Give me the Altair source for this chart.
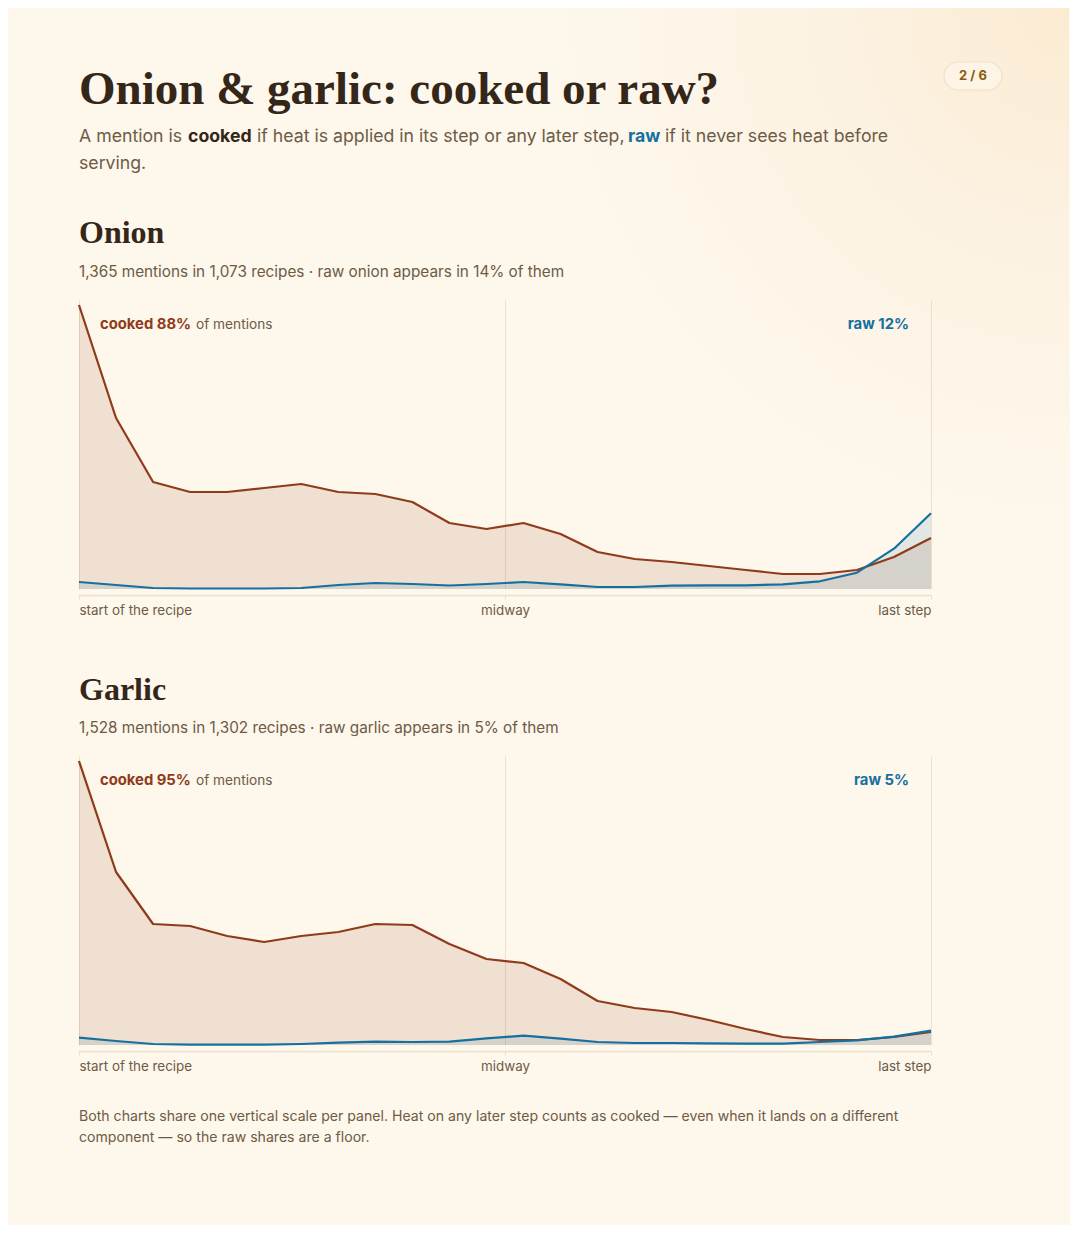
import altair as alt
import pandas as pd

# ---------------- data ----------------
steps = list(range(24))
onion_cooked = [284, 171, 107, 97, 97, 101, 105, 97, 95, 87, 66, 60, 66, 55, 37, 30, 27, 23, 19, 15, 15, 19, 32, 51]
onion_raw = [7, 4, 1, 0.5, 0.5, 0.5, 1, 4, 6, 5, 3.5, 5, 7, 4.7, 2, 2, 3.4, 3.7, 3.7, 4.7, 7.7, 16.3, 40.3, 75.7]
garlic_cooked = [284, 173, 121, 119, 109, 103, 109, 113, 121, 120, 101, 86, 82, 66, 44, 37, 33, 25, 16, 8, 5, 5, 8, 13]
garlic_raw = [7.3, 4, 1, 0.3, 0.3, 0.3, 1, 2.3, 3.3, 3, 3.3, 6.7, 9.3, 6.3, 3, 2, 2, 1.7, 1.3, 1.3, 3, 4.7, 8.3, 14.3]

tick_values = [0, 11.5, 23]
tick_labels = ["start of the recipe", "midway", "last step"]

TITLE = "Onion & garlic: cooked or raw?"
BADGE = "2 / 6"
footnote = [
    "Both charts share one vertical scale per panel. Heat on any later step counts as cooked — even when it lands on a different",
    "component — so the raw shares are a floor.",
]

# ---------------- styles ----------------
BG = "#fdf7ec"
DARK = "#35261a"
BODY = "#6e5b45"
RUST = "#8f3b1b"
BLUE = "#16709f"
GRID = "#ecdfcc"
SANS = "Inter"
SERIF = "Liberation Serif"
W = 852
PH = 289
SUB = 17.7


def txt(s, x, y, size=15, color=BODY, weight="normal", font=SANS, align="left", baseline="alphabetic"):
    return alt.Chart(pd.DataFrame({"t": [s]})).mark_text(
        align=align, baseline=baseline, fontSize=size, color=color,
        fontWeight=weight, font=font
    ).encode(x=alt.value(x), y=alt.value(y), text="t:N")


# ---------------- header cell ----------------
glow = alt.Chart(pd.DataFrame({"a": [0]})).mark_rect(
    fill=alt.RadialGradient(
        gradient="radial",
        stops=[alt.GradientStop(color="#fbebd2", offset=0),
               alt.GradientStop(color="#fcf2e2", offset=0.45),
               alt.GradientStop(color=BG, offset=1)],
        x1=1, y1=0, x2=1, y2=0, r1=0, r2=1,
    )
).encode(x=alt.value(470), x2=alt.value(990), y=alt.value(0), y2=alt.value(520))

badge = alt.Chart(pd.DataFrame({"a": [0]})).mark_rect(
    fill="#fdf4e6", stroke="#f1e0c8", strokeWidth=1.2, cornerRadius=14
).encode(x=alt.value(865), x2=alt.value(923), y=alt.value(54), y2=alt.value(82))

header = alt.layer(
    glow,
    badge,
    txt(BADGE, 894, 68, size=13, color="#8a5a12", weight="bold", align="center", baseline="middle"),
    txt(TITLE, 0, 96, size=47, color=DARK, weight="bold", font=SERIF),
    txt("A mention is", 0, 134, size=SUB),
    txt("cooked", 109, 134, size=SUB, color=DARK, weight="bold"),
    txt("if heat is applied in its step or any later step,", 178, 134, size=SUB),
    txt("raw", 549, 134, size=SUB, color=BLUE, weight="bold"),
    txt("if it never sees heat before", 586, 134, size=SUB),
    txt("serving.", 0, 161, size=SUB),
    txt("Onion", 0, 235, size=32, color=DARK, weight="bold", font=SERIF),
    txt("1,365 mentions in 1,073 recipes · raw onion appears in 14% of them", 0, 269, size=15.3),
).properties(width=W, height=292)


# ---------------- panel builder ----------------
def panel(cooked, raw, cooked_pct, raw_pct):
    df = pd.DataFrame({"step": steps, "cooked": cooked, "raw": raw})
    label_expr = ("datum.value == %s ? '%s' : datum.value == %s ? '%s' : '%s'"
                  % (tick_values[0], tick_labels[0], tick_values[2], tick_labels[2], tick_labels[1]))
    X = alt.X(
        "step:Q",
        scale=alt.Scale(domain=[0, 23], nice=False, zero=False),
        axis=alt.Axis(
            values=tick_values, labelExpr=label_expr, labelFlush=True, title=None,
            grid=True, gridColor=GRID, gridWidth=1,
            domainColor=GRID, domainWidth=1.5, tickColor=GRID, tickSize=4, offset=6,
            labelFontSize=13.4, labelColor=BODY, labelFont=SANS, labelPadding=4,
        ),
    )
    yscale = alt.Scale(domain=[0, PH], nice=False)
    base = alt.Chart(df)
    area_c = base.mark_area(color=RUST, opacity=0.12).encode(
        x=X, y=alt.Y("cooked:Q", scale=yscale, axis=None))
    area_r = base.mark_area(color=BLUE, opacity=0.12).encode(
        x=X, y=alt.Y("raw:Q", scale=yscale, axis=None))
    line_c = base.mark_line(color=RUST, strokeWidth=2.2, strokeJoin="round").encode(
        x=X, y=alt.Y("cooked:Q", scale=yscale, axis=None))
    line_r = base.mark_line(color=BLUE, strokeWidth=2.2, strokeJoin="round").encode(
        x=X, y=alt.Y("raw:Q", scale=yscale, axis=None))
    return alt.layer(
        area_c, area_r, line_c, line_r,
        txt("cooked %d%%" % cooked_pct, 21, 29, size=14.8, color=RUST, weight="bold"),
        txt("of mentions", 117, 29, size=13.7, color=BODY),
        txt("raw %d%%" % raw_pct, 830, 29, size=14.8, color=BLUE, weight="bold", align="right"),
    ).properties(width=W, height=PH)


onion = panel(onion_cooked, onion_raw, 88, 12)
garlic = panel(garlic_cooked, garlic_raw, 95, 5)

garlic_head = alt.layer(
    txt("Garlic", 0, 111, size=32, color=DARK, weight="bold", font=SERIF),
    txt("1,528 mentions in 1,302 recipes · raw garlic appears in 5% of them", 0, 144, size=15.3),
).properties(width=W, height=167)

footer = alt.layer(
    txt(footnote[0], 0, 76, size=14.1),
    txt(footnote[1], 0, 97, size=14.1),
).properties(width=W, height=180)

chart = alt.vconcat(
    header, onion, garlic_head, garlic, footer, spacing=0, bounds="flush"
).properties(
    padding={"left": 69, "top": 0, "right": 1, "bottom": 0},
    background=BG,
).configure_view(stroke=None)

chart.save("out.html", embed_options={"renderer": "svg", "actions": False})
